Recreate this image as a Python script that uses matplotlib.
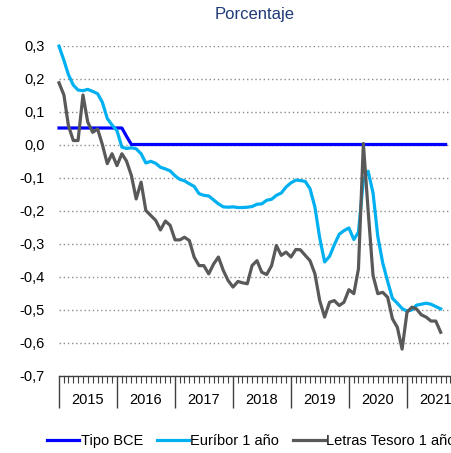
import pandas as pd
import matplotlib.pyplot as plt
import matplotlib.dates as mdates

plt.rcParams['font.family'] = ['Liberation Sans', 'DejaVu Sans']

# series mensuales, enero 2015 en adelante
meses = pd.date_range('2015-01-01', periods=80, freq='MS')
meses_bce = pd.date_range('2015-01-01', periods=81, freq='MS')

tipo_bce = [0.05, 0.05, 0.05, 0.05, 0.05, 0.05, 0.05, 0.05, 0.05, 0.05, 0.05, 0.05,
            0.05, 0.05, 0.025, 0.0, 0.0, 0.0, 0.0, 0.0, 0.0, 0.0, 0.0, 0.0,
            0.0, 0.0, 0.0, 0.0, 0.0, 0.0, 0.0, 0.0, 0.0, 0.0, 0.0, 0.0,
            0.0, 0.0, 0.0, 0.0, 0.0, 0.0, 0.0, 0.0, 0.0, 0.0, 0.0, 0.0,
            0.0, 0.0, 0.0, 0.0, 0.0, 0.0, 0.0, 0.0, 0.0, 0.0, 0.0, 0.0,
            0.0, 0.0, 0.0, 0.0, 0.0, 0.0, 0.0, 0.0, 0.0, 0.0, 0.0, 0.0,
            0.0, 0.0, 0.0, 0.0, 0.0, 0.0, 0.0, 0.0, 0.0]

euribor = [0.298, 0.255, 0.212, 0.180, 0.165, 0.163, 0.167, 0.161, 0.154, 0.128, 0.079, 0.059,
           0.042, -0.008, -0.012, -0.010, -0.013, -0.028, -0.056, -0.051, -0.057, -0.069, -0.074, -0.080,
           -0.095, -0.106, -0.110, -0.119, -0.127, -0.149, -0.154, -0.156, -0.168, -0.180, -0.189, -0.190,
           -0.189, -0.191, -0.191, -0.190, -0.188, -0.181, -0.180, -0.169, -0.166, -0.154, -0.147, -0.129,
           -0.116, -0.108, -0.109, -0.112, -0.134, -0.190, -0.283, -0.356, -0.339, -0.304, -0.272, -0.261,
           -0.253, -0.288, -0.266, -0.108, -0.081, -0.147, -0.279, -0.359, -0.415, -0.466, -0.481, -0.497,
           -0.505, -0.501, -0.487, -0.484, -0.481, -0.484, -0.491, -0.498]

letras = [0.187, 0.150, 0.058, 0.012, 0.012, 0.150, 0.068, 0.037, 0.047, 0.000, -0.058, -0.028,
          -0.064, -0.028, -0.050, -0.094, -0.165, -0.114, -0.200, -0.215, -0.230, -0.259, -0.232, -0.245,
          -0.289, -0.289, -0.281, -0.291, -0.341, -0.367, -0.367, -0.392, -0.362, -0.341, -0.382, -0.412,
          -0.432, -0.415, -0.419, -0.422, -0.367, -0.352, -0.387, -0.394, -0.367, -0.306, -0.336, -0.326,
          -0.341, -0.318, -0.319, -0.336, -0.352, -0.392, -0.473, -0.523, -0.478, -0.473, -0.488, -0.478,
          -0.440, -0.452, -0.377, 0.003, -0.200, -0.397, -0.452, -0.448, -0.463, -0.528, -0.554, -0.620,
          -0.508, -0.493, -0.498, -0.516, -0.523, -0.535, -0.535, -0.569]

anios = ['2015', '2016', '2017', '2018', '2019', '2020', '2021']
yticks = [-0.7, -0.6, -0.5, -0.4, -0.3, -0.2, -0.1, 0.0, 0.1, 0.2, 0.3]
ylabels = ['-0,7', '-0,6', '-0,5', '-0,4', '-0,3', '-0,2', '-0,1', '0,0', '0,1', '0,2', '0,3']

fig = plt.figure(figsize=(4.51, 4.53), dpi=100)
ax = fig.add_axes([59 / 451, 1 - 375.5 / 453, 392 / 451, 330 / 453])

ax.plot(meses_bce, tipo_bce, color='#0000ff', lw=2.3, label='Tipo BCE', clip_on=False)
ax.plot(meses, euribor, color='#00b0f0', lw=2.3, label='Euríbor 1 año', clip_on=False)
ax.plot(meses, letras, color='#595959', lw=2.3, label='Letras Tesoro 1 año', clip_on=False)

ax.set_ylim(-0.7, 0.3)
ax.set_yticks(yticks)
ax.set_yticklabels(ylabels, fontsize=10.5)
ax.tick_params(axis='y', length=0, pad=10)
ax.yaxis.grid(True, linestyle=(0, (1, 2)), color='#8c8c8c', lw=1)
ax.set_axisbelow(True)

ax.set_xlim(pd.Timestamp('2015-01-01'), pd.Timestamp('2021-10-05'))
ax.xaxis.set_major_locator(mdates.YearLocator())
ax.xaxis.set_minor_locator(mdates.MonthLocator())
ax.xaxis.set_major_formatter(plt.NullFormatter())
ax.tick_params(axis='x', which='major', length=23, width=1, color='#404040', direction='out')
ax.tick_params(axis='x', which='minor', length=5, width=0.8, color='#404040', direction='out')

# etiquetas de año centradas entre las marcas
for a in anios:
    ax.text(pd.Timestamp(a + '-07-02'), -0.073, a, transform=ax.get_xaxis_transform(),
            ha='center', va='center', fontsize=10.5)

for s in ['top', 'left', 'right']:
    ax.spines[s].set_visible(False)
ax.spines['bottom'].set_color('#404040')
ax.spines['bottom'].set_linewidth(1)

ax.set_title('Porcentaje', color='#1f3a78', fontsize=12, pad=19)

fig.legend(loc='center left', bbox_to_anchor=(47 / 451, 1 - 441 / 453), ncol=3,
           frameon=False, fontsize=10.5, handlelength=2.2, handletextpad=0.1,
           columnspacing=0.95, borderpad=0, borderaxespad=0)

fig.savefig('out.png', dpi=100)
